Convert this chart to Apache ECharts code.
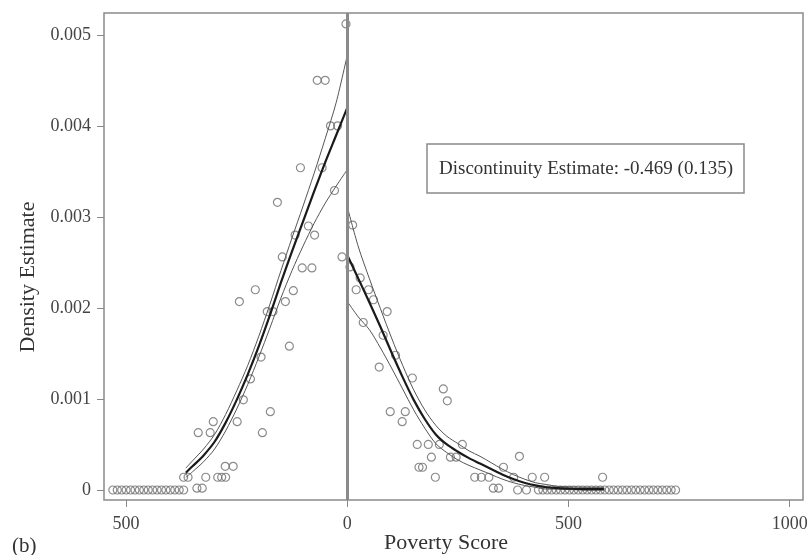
<!DOCTYPE html>
<html>
<head>
<meta charset="utf-8">
<script src="https://cdn.jsdelivr.net/npm/echarts@6/dist/echarts.min.js"></script>
<style>html,body{margin:0;padding:0;background:#fff}#c{width:812px;height:555px}</style>
</head>
<body>
<div id="c"></div>
<script>
// ---- data ----
var xTickValues = [-500, 0, 500, 1000];
var xTickLabels = ['500', '0', '500', '1000'];
var yTickValues = [0, 0.001, 0.002, 0.003, 0.004, 0.005];
var yTickLabels = ['0', '0.001', '0.002', '0.003', '0.004', '0.005'];
var xTitle = 'Poverty Score';
var yTitle = 'Density Estimate';

// binned density (circles), left of cutoff
var binsLeft = [
  [-530,0],[-520,0],[-510,0],[-500,0],[-490,0],[-480,0],[-470,0],[-460,0],[-450,0],
  [-440,0],[-430,0],[-420,0],[-410,0],[-400,0],[-390,0],[-380,0],[-370,0],
  [-340,0.00002],[-328,0.00002],
  [-370,0.00014],[-360,0.00014],[-320,0.00014],[-293,0.00014],[-284,0.00014],[-275,0.00014],
  [-276,0.00026],[-258,0.00026],
  [-337,0.00063],[-310,0.00063],[-192,0.00063],
  [-303,0.00075],[-249,0.00075],
  [-174,0.00086],[-235,0.00099],[-219,0.00122],[-195,0.00146],[-131,0.00158],
  [-181,0.00196],[-168,0.00196],[-244,0.00207],[-140,0.00207],
  [-208,0.0022],[-122,0.00219],[-102,0.00244],[-80,0.00244],
  [-147,0.00256],[-12,0.00256],[-118,0.0028],[-74,0.0028],[-88,0.0029],
  [-29,0.00329],[-158,0.00316],[-106,0.00354],[-57,0.00354],
  [-38,0.004],[-22,0.004],[-68,0.0045],[-50,0.0045],[-3,0.00512]
];
// binned density (circles), right of cutoff
var binsRight = [
  [12,0.00291],[6,0.00245],[29,0.00233],[20,0.0022],[48,0.0022],[59,0.00209],
  [90,0.00196],[36,0.00184],[81,0.0017],[109,0.00148],[72,0.00135],[147,0.00123],
  [217,0.00111],[226,0.00098],[97,0.00086],[131,0.00086],[124,0.00075],
  [158,0.0005],[183,0.0005],[208,0.0005],[260,0.0005],
  [190,0.00036],[233,0.00036],[246,0.00036],[389,0.00037],
  [162,0.00025],[170,0.00025],[353,0.00025],
  [199,0.00014],[288,0.00014],[303,0.00014],[320,0.00014],[376,0.00014],[418,0.00014],[446,0.00014],[577,0.00014],
  [330,0.00002],[342,0.00002],[385,0],[405,0],
  [432,0],[442,0],[452,0],[462,0],[472,0],[482,0],[492,0],[502,0],[512,0],[522,0],
  [532,0],[542,0],[552,0],[562,0],[572,0],[582,0],[592,0],[602,0],[612,0],[622,0],
  [632,0],[642,0],[652,0],[662,0],[672,0],[682,0],[692,0],[702,0],[712,0],[722,0],
  [732,0],[742,0]
];

// fitted density and confidence band, left of cutoff
var fitLeftX     = [-365,-350,-325,-300,-275,-250,-225,-200,-175,-150,-125,-100,-75,-50,-25,0];
var fitLeftMain  = [0.00019,0.00026,0.00038,0.00053,0.00074,0.00099,0.00127,0.00158,0.00192,0.00228,0.00262,0.00295,0.00328,0.0036,0.0039,0.0042];
var fitLeftUpper = [0.00024,0.00032,0.00045,0.00061,0.00083,0.00109,0.00137,0.00169,0.00204,0.00241,0.00277,0.00312,0.00348,0.00386,0.00426,0.00478];
var fitLeftLower = [0.00014,0.0002,0.00031,0.00045,0.00065,0.00089,0.00116,0.00146,0.00178,0.00211,0.00241,0.00268,0.00293,0.00315,0.00334,0.00352];

// fitted density and confidence band, right of cutoff
var fitRightX     = [0,25,50,75,100,125,150,175,200,225,250,275,300,325,350,375,400,425,450,475,500,540,580];
var fitRightMain  = [0.00258,0.00232,0.00206,0.00179,0.00151,0.00124,0.00099,0.00078,0.00061,0.0005,0.00042,0.00035,0.00029,0.00023,0.00017,0.00012,0.00008,0.00005,0.00003,0.00002,0.000015,0.00001,0.00001];
var fitRightUpper = [0.00311,0.00267,0.00232,0.00199,0.00167,0.00137,0.0011,0.00088,0.00071,0.00059,0.00051,0.00043,0.00037,0.0003,0.00023,0.00017,0.00012,0.00008,0.00006,0.00004,0.000035,0.00003,0.00003];
var fitRightLower = [0.00207,0.0019,0.00176,0.00156,0.00134,0.00111,0.00088,0.00068,0.00051,0.00041,0.00033,0.00027,0.00022,0.00017,0.00012,0.00008,0.00005,0.00003,0.00001,0.00001,0.000005,0,0];

var cutoff = 0;
var annotation = 'Discontinuity Estimate: -0.469 (0.135)';

// ---- build ----
function pairs(xs, ys) { return xs.map(function (x, i) { return [x, ys[i]]; }); }
var FONT = '"Liberation Serif", "DejaVu Serif", serif';
var chart = echarts.init(document.getElementById('c'), null, { renderer: 'canvas' });

function lineSeries(xs, ys, w, col) {
  return { type: 'line', data: pairs(xs, ys), showSymbol: false, smooth: 0.3,
    lineStyle: { color: col, width: w }, z: 4, silent: true, animation: false };
}

chart.setOption({
  animation: false,
  backgroundColor: '#fff',
  grid: { left: 104, right: 9, top: 13, bottom: 55, show: true, borderColor: '#8a8a8a', borderWidth: 1.5,
    outerBoundsMode: 'none', containLabel: false },
  xAxis: {
    type: 'value', min: -550, max: 1030,
    axisLine: { show: false, onZero: false },
    splitLine: { show: false },
    axisTick: { show: true, inside: false, length: 7, customValues: xTickValues, lineStyle: { color: '#888' } },
    axisLabel: { customValues: xTickValues, margin: 15, fontFamily: FONT, fontSize: 18, color: '#444',
      formatter: function (v) { var i = xTickValues.indexOf(v); return i >= 0 ? xTickLabels[i] : ''; } }
  },
  yAxis: {
    type: 'value', min: -0.00011, max: 0.00524,
    axisLine: { show: false, onZero: false },
    splitLine: { show: false },
    axisTick: { show: true, inside: false, length: 7, customValues: yTickValues, lineStyle: { color: '#888' } },
    axisLabel: { customValues: yTickValues, margin: 13, fontFamily: FONT, fontSize: 18, color: '#444',
      formatter: function (v) { for (var i = 0; i < yTickValues.length; i++) { if (Math.abs(yTickValues[i] - v) < 1e-9) return yTickLabels[i]; } return ''; } }
  },
  graphic: [
    { type: 'text', x: 28, y: 277, rotation: Math.PI / 2,
      style: { text: yTitle, font: '22px ' + FONT, fill: '#333', align: 'center', verticalAlign: 'middle' } },
    { type: 'text', x: 446, y: 543,
      style: { text: xTitle, font: '22px ' + FONT, fill: '#333', align: 'center', verticalAlign: 'middle' } },
    { type: 'text', left: 12, top: 536, style: { text: '(b)', font: '21px ' + FONT, fill: '#333' } },
    { type: 'rect', shape: { x: 427, y: 144, width: 317, height: 49 },
      style: { fill: '#fff', stroke: '#8a8a8a', lineWidth: 1.5 }, z: 10 },
    { type: 'text', x: 586, y: 169, z: 11,
      style: { text: annotation, font: '19px ' + FONT, fill: '#333', align: 'center', verticalAlign: 'middle' } }
  ],
  series: [
    { type: 'scatter', data: binsLeft.concat(binsRight), symbol: 'circle', symbolSize: 8,
      itemStyle: { color: 'rgba(0,0,0,0)', borderColor: '#6e6e6e', borderWidth: 1.2 }, z: 2, silent: true,
      markLine: { silent: true, symbol: 'none', label: { show: false },
        lineStyle: { color: '#8a8a8a', width: 3, type: 'solid' }, data: [{ xAxis: cutoff }] } },
    lineSeries(fitLeftX, fitLeftUpper, 1, '#555'),
    lineSeries(fitLeftX, fitLeftLower, 1, '#555'),
    lineSeries(fitLeftX, fitLeftMain, 2.2, '#1a1a1a'),
    lineSeries(fitRightX, fitRightUpper, 1, '#555'),
    lineSeries(fitRightX, fitRightLower, 1, '#555'),
    lineSeries(fitRightX, fitRightMain, 2.2, '#1a1a1a')
  ]
});
</script>
</body>
</html>
